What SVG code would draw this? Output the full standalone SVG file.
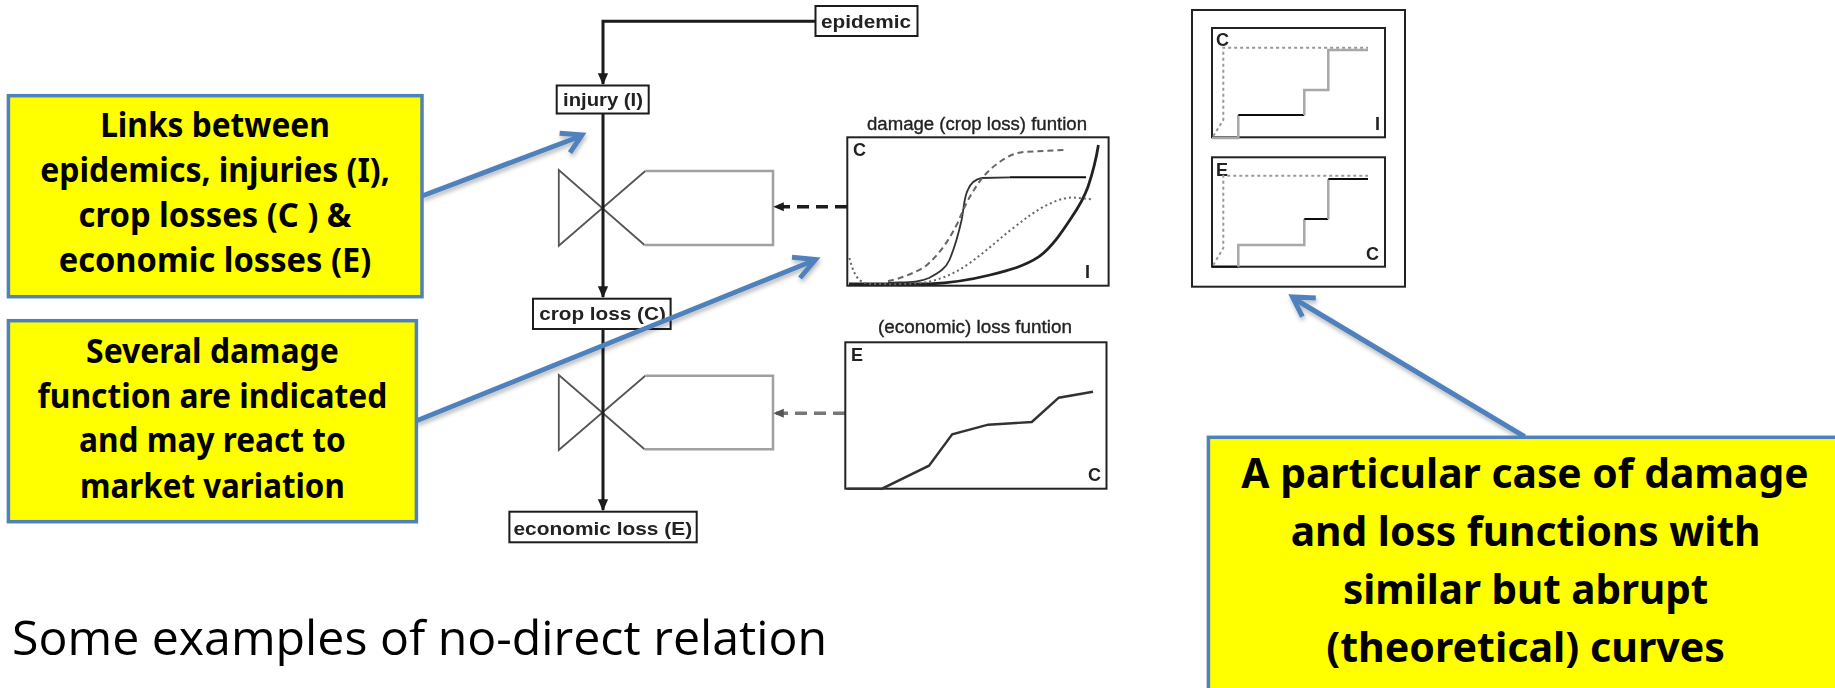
<svg xmlns="http://www.w3.org/2000/svg" width="1835" height="688" viewBox="0 0 1835 688">
<style>
.call{fill:#ffff00;stroke:#4f81bd;stroke-width:3.5}
.ct{font-family:"Noto Sans","Open Sans",sans-serif;font-weight:700;fill:#000;text-anchor:middle}
.c1{font-size:34px}.c3{font-size:41px}
.box{fill:#fff;stroke:#1a1a1a;stroke-width:2}
.bt{font-family:"Liberation Sans",Arial,sans-serif;font-weight:700;font-size:19px;fill:#222;text-anchor:middle}
.tt{font-family:"Liberation Sans",Arial,sans-serif;font-size:18px;fill:#222;stroke:#222;stroke-width:0.35;text-anchor:middle}
.ax{font-family:"Liberation Sans",Arial,sans-serif;font-weight:700;font-size:18px;fill:#222}
.flow{fill:none;stroke:#1a1a1a;stroke-width:3}
.xs{fill:none;stroke:#555;stroke-width:1.8}
.rs{fill:none;stroke:#a0a0a0;stroke-width:2.5}
.chart{fill:#fff;stroke:#222;stroke-width:2}
.cv{fill:none;stroke:#333;stroke-width:1.8}
.g{fill:none;stroke:#a8a8a8;stroke-width:2.5}
.k{fill:none;stroke:#111;stroke-width:2}
.dot{fill:none;stroke:#999;stroke-width:2;stroke-dasharray:3 3}
.blue{fill:none;stroke:#4f81bd;stroke-width:5}
</style>
<defs>
<marker id="tip" markerWidth="4" markerHeight="4" refX="3.6" refY="2" orient="auto" markerUnits="strokeWidth"><path d="M0,0.3L4,2L0,3.7z" fill="#1a1a1a"/></marker>
<marker id="tipd" markerWidth="3" markerHeight="3" refX="2.8" refY="1.5" orient="auto" markerUnits="strokeWidth"><path d="M0,0.2L3,1.5L0,2.8z" fill="#1a1a1a"/></marker>
<marker id="tipg" markerWidth="3" markerHeight="3" refX="2.8" refY="1.5" orient="auto" markerUnits="strokeWidth"><path d="M0,0.2L3,1.5L0,2.8z" fill="#555"/></marker>
<filter id="soft" x="-5%" y="-5%" width="110%" height="110%"><feGaussianBlur stdDeviation="0.6"/></filter>
<filter id="sh" x="-10%" y="-10%" width="120%" height="130%"><feDropShadow dx="1" dy="3" stdDeviation="2" flood-color="#000" flood-opacity="0.28"/></filter>
</defs>
<rect width="1835" height="688" fill="#fff"/>
<g id="diagram" filter="url(#soft)">
<g id="butterfly-1"><path class="xs" d="M644.5,245L558.8,170V245.7L645.3,171"/><path class="rs" d="M645.3,171H773V245H644.5"/></g>
<g id="butterfly-2"><path class="xs" d="M644.5,449.3L558.8,375V450L645.3,375.7"/><path class="rs" d="M645.3,375.7H773V449.3H644.5"/></g>
<g id="connectors">
<path class="flow" d="M815,21.3H603V84" marker-end="url(#tip)"/>
<path class="flow" d="M603,114V297" marker-end="url(#tip)"/>
<path class="flow" d="M603,329V510" marker-end="url(#tip)"/>
<path fill="none" stroke="#1a1a1a" stroke-width="3.5" stroke-dasharray="12 7" d="M847,206.7H774" marker-end="url(#tipd)"/>
<path fill="none" stroke="#777" stroke-width="3.5" stroke-dasharray="12 7" d="M845,413.3H774" marker-end="url(#tipg)"/>
</g>
<g id="epidemic"><rect class="box" x="815.5" y="6" width="102" height="30"/><text class="bt" x="866" y="28" textLength="90" lengthAdjust="spacingAndGlyphs">epidemic</text></g>
<g id="injury"><rect class="box" x="556.7" y="85.5" width="92" height="28"/><text class="bt" x="603" y="106" textLength="80" lengthAdjust="spacingAndGlyphs">injury (I)</text></g>
<g id="crop-loss"><rect class="box" x="533" y="298.7" width="137.6" height="30.3"/><text class="bt" x="602.5" y="320" textLength="126.7" lengthAdjust="spacingAndGlyphs">crop loss (C)</text></g>
<g id="economic-loss"><rect class="box" x="509.4" y="511.7" width="187.3" height="30.6"/><text class="bt" x="602.8" y="535" textLength="178.7" lengthAdjust="spacingAndGlyphs">economic loss (E)</text></g>
<g id="damage-function">
<text class="tt" x="977" y="130" textLength="220" lengthAdjust="spacingAndGlyphs">damage (crop loss) funtion</text>
<rect class="chart" x="847.3" y="137.3" width="261.3" height="148.4"/>
<text class="ax" x="853" y="156">C</text><text class="ax" x="1085" y="277.5">I</text>
<path fill="none" stroke="#222" stroke-width="2.8" d="M849,284H929C950,283 970,280 990,275C1010,270 1025,266 1039,256.7C1052,247 1062,232 1072,216.7C1080,205 1085,195 1088,186.7C1093,172 1096,160 1098.4,145"/>
<path class="cv" d="M888,283C905,282 918,283 929,278C940,272 946,268 949.4,260C955,247 958,236 961.6,220C964,208 964,197 967.8,190C971,182 976,179 982,178L1010,177.3"/>
<path class="k" d="M1010,177.3H1086"/>
<path fill="none" stroke="#666" stroke-width="2" stroke-dasharray="6 4" d="M888,281C900,279 914,273 925,266.7C940,254 949,240 957.6,223C963,210 968,199 974,190C982,176 992,167 1002.4,160C1010,155 1018,152 1027,151.7L1064,150"/>
<path fill="none" stroke="#666" stroke-width="2" stroke-dasharray="2 3" d="M849.4,258C852,268 855,276 859.6,280C863,283 867,284 872,284C890,284 912,285 929,281.7C945,278 957,272 969.8,263C985,252 997,241 1010.6,230C1025,219 1037,209 1051.4,203C1060,199 1068,197 1076,197.7L1092,199.3"/>
</g>
<g id="loss-function">
<text class="tt" x="975" y="333.3" textLength="194" lengthAdjust="spacingAndGlyphs">(economic) loss funtion</text>
<rect class="chart" x="845.3" y="342.3" width="261.2" height="146.4"/>
<text class="ax" x="851" y="361">E</text><text class="ax" x="1088" y="480.7">C</text>
<path class="cv" style="stroke-width:2.4" d="M847.3,488.7H882L929,465.7L952.2,434.3L988.2,424.7L1031.8,422L1058.8,397.7L1093,391.7"/>
</g>
<g id="step-functions">
<rect class="chart" x="1192" y="10" width="213" height="276.7"/>
<rect class="chart" x="1212" y="28" width="173" height="109.3"/>
<text class="ax" x="1216" y="46">C</text><text class="ax" x="1375" y="130">I</text>
<path class="dot" d="M1213.3,136L1223.3,120V47.7H1368"/>
<path class="g" d="M1212,138H1238.3V115"/><path class="k" d="M1238.3,115H1304.3"/><path class="g" d="M1304.3,115V90H1328.3V50H1368"/>
<rect class="chart" x="1212" y="157.3" width="173" height="109.4"/>
<text class="ax" x="1216" y="175.7">E</text><text class="ax" x="1366" y="260">C</text>
<path class="dot" d="M1213.3,265L1223.3,248V175.7H1368"/>
<path class="k" d="M1212,266.7H1238.3"/><path class="g" d="M1238.3,266.7V245H1304.3V219"/><path class="k" d="M1304.3,219H1328.3"/><path class="g" d="M1328.3,219V179"/><path class="k" d="M1328.3,179H1368"/>
</g>
</g>
<g id="callouts-connectors" filter="url(#sh)">
<path class="blue" d="M422,196L581,136"/><path class="blue" d="M559.6,133.3L582,135L570,152.7"/>
<path class="blue" d="M416,421L815,260"/><path class="blue" d="M792,257.3L815.5,259.5L800,278"/>
<path class="blue" d="M1524.6,436.7L1293,298"/><path class="blue" d="M1315.8,298L1292.5,297L1302.4,316.7"/>
</g>
<g id="callout-links"><rect class="call" x="8.4" y="95.7" width="413.6" height="201"/>
<text class="ct c1" x="215" y="137.3" textLength="229.7" lengthAdjust="spacingAndGlyphs">Links between</text>
<text class="ct c1" x="215" y="182.3" textLength="349.6" lengthAdjust="spacingAndGlyphs">epidemics, injuries (I),</text>
<text class="ct c1" x="215" y="226.7" textLength="272.8" lengthAdjust="spacingAndGlyphs">crop losses (C ) &amp;</text>
<text class="ct c1" x="215" y="272.3" textLength="312.6" lengthAdjust="spacingAndGlyphs">economic losses (E)</text></g>
<g id="callout-several"><rect class="call" x="8.4" y="320.7" width="408" height="201"/>
<text class="ct c1" x="212.4" y="362.7" textLength="252.7" lengthAdjust="spacingAndGlyphs">Several damage</text>
<text class="ct c1" x="212.4" y="407.7" textLength="349.8" lengthAdjust="spacingAndGlyphs">function are indicated</text>
<text class="ct c1" x="212.4" y="451.7" textLength="266.6" lengthAdjust="spacingAndGlyphs">and may react to</text>
<text class="ct c1" x="212.4" y="497.7" textLength="264.8" lengthAdjust="spacingAndGlyphs">market variation</text></g>
<g id="callout-case"><rect class="call" x="1208.4" y="437.3" width="640" height="270"/>
<text class="ct c3" x="1525" y="488.3" textLength="567.3" lengthAdjust="spacingAndGlyphs">A particular case of damage</text>
<text class="ct c3" x="1525.6" y="545.7" textLength="469.9" lengthAdjust="spacingAndGlyphs">and loss functions with</text>
<text class="ct c3" x="1525.7" y="604.3" textLength="365.4" lengthAdjust="spacingAndGlyphs">similar but abrupt</text>
<text class="ct c3" x="1525.6" y="661.7" textLength="398.8" lengthAdjust="spacingAndGlyphs">(theoretical) curves</text></g>
<text x="12" y="655" font-family="'Open Sans',sans-serif" font-weight="400" font-size="48px" fill="#000" textLength="815" lengthAdjust="spacingAndGlyphs">Some examples of no-direct relation</text>
</svg>
